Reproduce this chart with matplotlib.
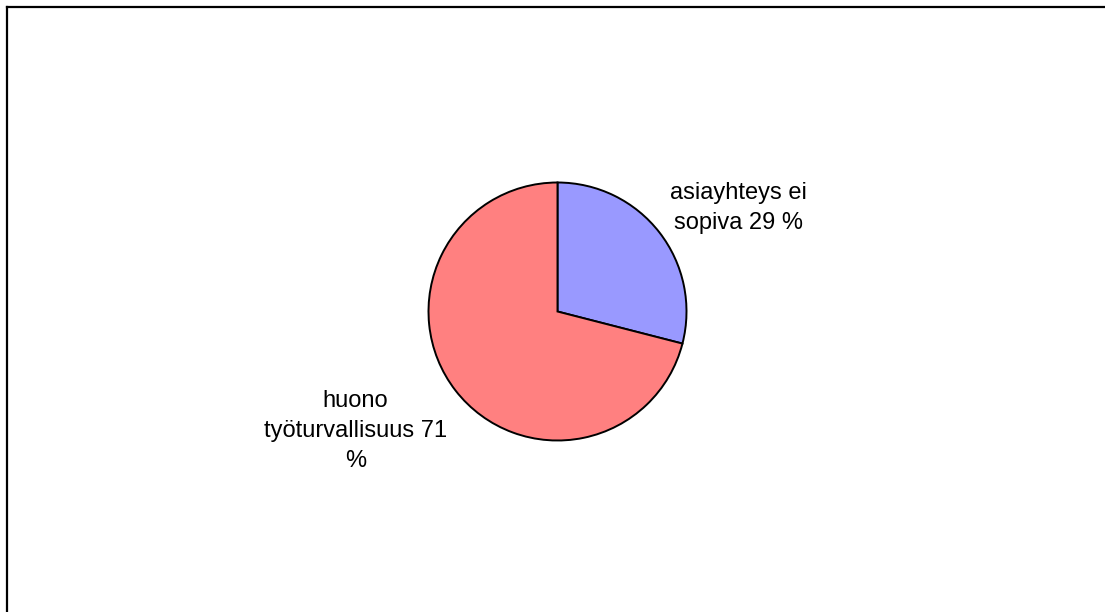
import matplotlib.pyplot as plt
from matplotlib.lines import Line2D

plt.rcParams['font.family'] = ['Liberation Sans', 'DejaVu Sans']

# shares of the two reasons
labels = ['asiayhteys ei\nsopiva 29 %', 'huono\ntyöturvallisuus 71\n%']
values = [29, 71]
colors = ['#9999FF', '#FF8080']

W, H = 1105, 612
fig = plt.figure(figsize=(W / 100, H / 100), dpi=100)
fig.patch.set_facecolor('white')

# pie centre and radius in pixels
cx, cy, r = 557.5, 311.5, 129.0
ax = fig.add_axes([0, 0, 1, 1])

ax.pie(values, colors=colors, startangle=90, counterclock=False, radius=1,
       wedgeprops=dict(edgecolor='black', linewidth=1.4))

# pie() resets the limits, so set them afterwards
ax.set_xlim(-cx / r, (W - cx) / r)
ax.set_ylim(-(H - cy) / r, cy / r)
ax.set_aspect('equal')
ax.axis('off')

def px(x, y):
    return (x - cx) / r, (cy - y) / r

label_pos = [(738, 208), (355.5, 431)]
for text, (x, y) in zip(labels, label_pos):
    tx, ty = px(x, y)
    ax.text(tx, ty, text, ha='center', va='center', fontsize=17,
            linespacing=1.45, color='black')

# frame around the chart area (left and top edges visible)
fig.add_artist(Line2D([7 / W, 7 / W], [0, 1 - 7 / H], color='black', lw=1.6,
                      transform=fig.transFigure))
fig.add_artist(Line2D([7 / W, 1], [1 - 7 / H, 1 - 7 / H], color='black', lw=1.6,
                      transform=fig.transFigure))

fig.savefig('out.png', dpi=100)
